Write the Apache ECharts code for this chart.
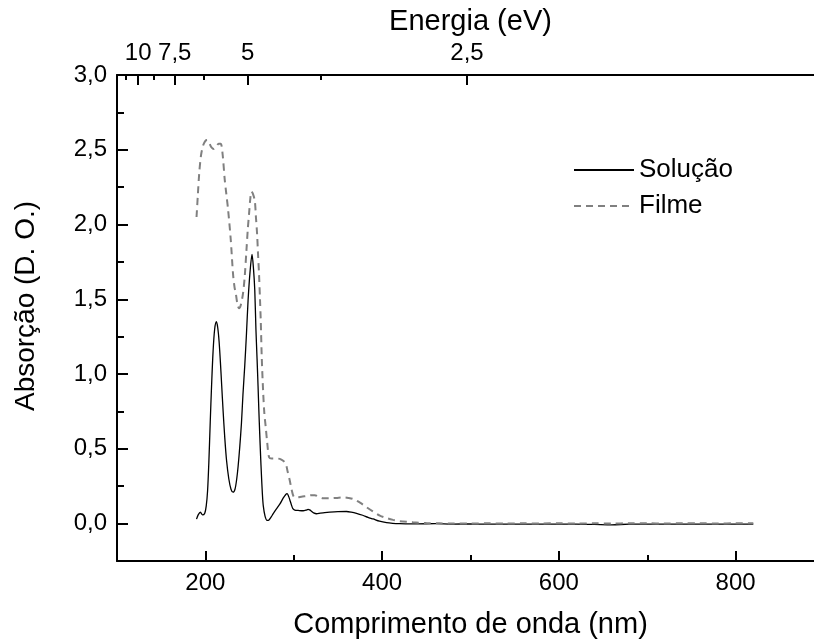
<!DOCTYPE html>
<html>
<head>
<meta charset="utf-8">
<script src="https://cdn.jsdelivr.net/npm/echarts@6/dist/echarts.min.js"></script>
<style>html,body{margin:0;padding:0;background:#fff;}#c{width:814px;height:641px;}</style>
</head>
<body>
<div id="c"></div>
<script>
// ---- data ----
const seriesNames = ['Solução', 'Filme'];
// wavelength (nm), absorbance (D.O.)
const solucao = [
  [190,0.03],[192,0.06],[194.4,0.076],[196.7,0.058],[199.3,0.07],[201,0.12],[202.5,0.22],[204,0.42],
  [205.5,0.68],[207,0.92],[208.7,1.15],[210.5,1.30],[212.5,1.35],[214,1.31],[215.5,1.22],[217,1.08],
  [218.5,0.92],[220,0.76],[222,0.57],[224,0.42],[226.5,0.30],[229,0.23],[231.3,0.21],[233.5,0.23],
  [235.5,0.30],[237,0.38],[239,0.52],[240.8,0.67],[242.5,0.86],[244.6,1.06],[246.5,1.27],[248.3,1.49],
  [250.5,1.68],[252.8,1.80],[254.5,1.70],[255.9,1.56],[257.2,1.30],[258.5,1.10],[259.6,0.92],[260.5,0.76],
  [261.5,0.60],[262.5,0.45],[263.4,0.33],[264.5,0.20],[265.5,0.12],[267.5,0.05],[269.8,0.022],[272,0.025],
  [274.5,0.045],[276.6,0.065],[280,0.095],[284.2,0.13],[288,0.17],[291,0.195],[292.4,0.20],[294,0.185],
  [295.5,0.16],[297.4,0.125],[299,0.10],[301.2,0.09],[305,0.088],[310.6,0.086],[314,0.09],[316.2,0.095],
  [318,0.092],[320,0.083],[322.5,0.072],[325.7,0.066],[330,0.07],[335,0.074],[340.8,0.077],[350,0.08],
  [359.7,0.081],[365,0.077],[371,0.069],[378,0.056],[384,0.042],[389.8,0.031],[397,0.016],[405,0.006],
  [412,0.002],[420,0.0],[440,-0.002],[460,0.0],[480,-0.003],[500,-0.002],[520,-0.004],[540,-0.003],
  [560,-0.004],[580,-0.003],[600,-0.004],[620,-0.003],[640,-0.005],[660,-0.008],[680,-0.004],[700,-0.004],
  [720,-0.003],[740,-0.004],[760,-0.003],[780,-0.003],[800,-0.003],[820,-0.003]
];
const filme = [
  [190,2.05],[191.5,2.2],[193,2.34],[195,2.46],[197.5,2.53],[200,2.56],[202,2.565],[204,2.55],
  [206.5,2.52],[209.8,2.505],[212.5,2.52],[215,2.54],[217.4,2.54],[219.5,2.47],[221.9,2.30],[223.8,2.20],
  [225.7,2.10],[228.7,1.90],[231.3,1.67],[233,1.58],[234.4,1.54],[236.5,1.46],[238.1,1.44],[240,1.46],
  [242.6,1.54],[244.5,1.65],[246.5,1.83],[248,1.97],[249.4,2.07],[250.8,2.17],[252.1,2.22],[253.5,2.21],
  [255.9,2.16],[257.2,2.05],[258.5,1.94],[259.6,1.80],[260.7,1.67],[261.8,1.50],[262.7,1.35],[263.8,1.11],
  [265.3,0.89],[266.7,0.74],[268.3,0.645],[270,0.54],[272.1,0.444],[275,0.435],[280,0.435],[284.2,0.433],
  [288,0.42],[291,0.40],[293,0.35],[295.5,0.288],[297.5,0.23],[300,0.18],[304,0.175],[308.7,0.18],
  [315,0.185],[320,0.19],[323.8,0.19],[328,0.18],[333.2,0.17],[340.8,0.17],[348,0.172],[355.8,0.176],
  [362,0.172],[367.1,0.165],[375,0.14],[382.3,0.11],[390,0.08],[397.4,0.054],[405,0.037],[412.4,0.025],
  [420,0.016],[435,0.009],[450,0.004],[465,0.002],[480,0.0],[500,0.001],[520,0.002],[540,0.001],
  [560,0.002],[580,0.001],[600,0.003],[620,0.0],[640,0.002],[660,0.001],[680,0.002],[700,0.002],
  [720,0.001],[740,0.002],[760,0.002],[780,0.001],[800,0.002],[820,0.002]
];
const xMajorTicks = [200, 400, 600, 800];
const xMinorTicks = [300, 500, 700];
const yMajorTicks = [0, 0.5, 1.0, 1.5, 2.0, 2.5, 3.0];
const yMinorTicks = [0.25, 0.75, 1.25, 1.75, 2.25, 2.75];
const eMajorTicks = [10, 7.5, 5, 2.5];        // eV
const eMinorTicks = [11.25, 8.75, 6.25, 3.75]; // eV
const HC = 1240; // eV*nm

// ---- chart ----
const FONT = 'Liberation Sans, Arial, sans-serif';
const toNm = e => HC / e;
const commaFmt = v => v.toFixed(1).replace('.', ',');
const eFmt = v => {
  const e = Math.round(HC / v * 100) / 100;
  return Number.isInteger(e) ? String(e) : String(e).replace('.', ',');
};
const axisBase = {
  type: 'value', min: 100, max: 900, splitLine: {show: false}
};
const chart = echarts.init(document.getElementById('c'), null, {renderer: 'canvas'});
chart.setOption({
  backgroundColor: '#fff',
  animation: false,
  grid: {left: 117, right: -10, top: 75, bottom: 80, outerBoundsMode: 'none', containLabel: false},
  legend: {
    data: seriesNames, orient: 'vertical', left: 568, top: 152,
    itemWidth: 60, itemHeight: 14, itemGap: 10,
    itemStyle: {opacity: 0, borderWidth: 0},
    textStyle: {fontFamily: FONT, fontSize: 26, color: '#000'}
  },
  xAxis: [
    Object.assign({}, axisBase, {
      position: 'bottom',
      name: 'Comprimento de onda (nm)', nameLocation: 'middle', nameGap: 49,
      nameTextStyle: {fontFamily: FONT, fontSize: 29, color: '#000'},
      axisLine: {show: true, onZero: false, lineStyle: {color: '#000', width: 2}},
      axisTick: {show: true, inside: true, length: 10, customValues: xMajorTicks, lineStyle: {color: '#000', width: 2}},
      axisLabel: {show: true, margin: 10, customValues: xMajorTicks, fontFamily: FONT, fontSize: 24, color: '#000'}
    }),
    Object.assign({}, axisBase, {
      position: 'bottom',
      axisLine: {show: false, onZero: false},
      axisTick: {show: true, inside: true, length: 6, customValues: xMinorTicks, lineStyle: {color: '#000', width: 2}},
      axisLabel: {show: false}
    }),
    Object.assign({}, axisBase, {
      position: 'top',
      name: 'Energia (eV)', nameLocation: 'middle', nameGap: 32,
      nameTextStyle: {fontFamily: FONT, fontSize: 29, color: '#000'},
      axisLine: {show: true, onZero: false, lineStyle: {color: '#000', width: 2}},
      axisTick: {show: true, inside: true, length: 10, customValues: eMajorTicks.map(toNm), lineStyle: {color: '#000', width: 2}},
      axisLabel: {show: true, margin: 10, customValues: eMajorTicks.map(toNm), formatter: eFmt, fontFamily: FONT, fontSize: 24, color: '#000'}
    }),
    Object.assign({}, axisBase, {
      position: 'top',
      axisLine: {show: false, onZero: false},
      axisTick: {show: true, inside: true, length: 5, customValues: eMinorTicks.map(toNm), lineStyle: {color: '#000', width: 2}},
      axisLabel: {show: false}
    })
  ],
  yAxis: [
    {
      type: 'value', min: -0.25, max: 3.0, position: 'left',
      name: 'Absorção (D. O.)', nameLocation: 'middle', nameGap: 77, nameRotate: 90,
      nameTextStyle: {fontFamily: FONT, fontSize: 28, color: '#000', padding: [0, 0, 0, 24]},
      splitLine: {show: false},
      axisLine: {show: true, onZero: false, lineStyle: {color: '#000', width: 2}},
      axisTick: {show: true, inside: true, length: 11, customValues: yMajorTicks, lineStyle: {color: '#000', width: 2}},
      axisLabel: {show: true, margin: 10, customValues: yMajorTicks, formatter: commaFmt, fontFamily: FONT, fontSize: 24, color: '#000'}
    },
    {
      type: 'value', min: -0.25, max: 3.0, position: 'left',
      splitLine: {show: false},
      axisLine: {show: false, onZero: false},
      axisTick: {show: true, inside: true, length: 7, customValues: yMinorTicks, lineStyle: {color: '#000', width: 2}},
      axisLabel: {show: false}
    }
  ],
  series: [
    {
      name: seriesNames[0], type: 'line', data: solucao, xAxisIndex: 0, yAxisIndex: 0,
      showSymbol: false, symbol: 'none', smooth: 0.3,
      lineStyle: {color: '#000', width: 1.3}, itemStyle: {color: '#000'}
    },
    {
      name: seriesNames[1], type: 'line', data: filme, xAxisIndex: 0, yAxisIndex: 0,
      showSymbol: false, symbol: 'none', smooth: 0.3,
      lineStyle: {color: '#808080', width: 2, type: [7, 5]}, itemStyle: {color: '#808080'}
    }
  ]
});
</script>
</body>
</html>
